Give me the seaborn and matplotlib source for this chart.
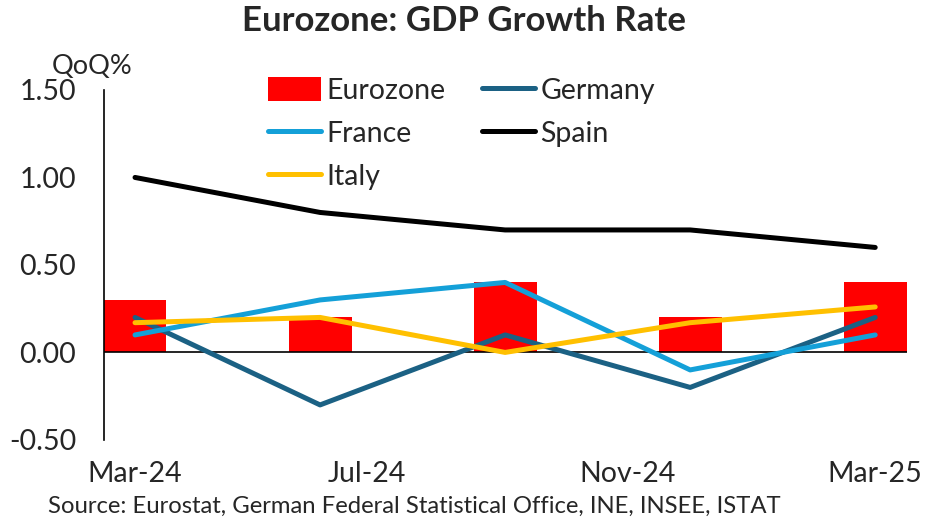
import matplotlib
matplotlib.use("Agg")
import matplotlib.pyplot as plt
import seaborn as sns
import pandas as pd
import numpy as np
from matplotlib.patches import Patch
from matplotlib.lines import Line2D

quarters = ["Mar-24", "Jun-24", "Sep-24", "Dec-24", "Mar-25"]
eurozone = [0.3, 0.2, 0.4, 0.2, 0.4]
germany = [0.2, -0.3, 0.1, -0.2, 0.2]
france = [0.1, 0.3, 0.4, -0.1, 0.1]
spain = [1.0, 0.8, 0.7, 0.7, 0.6]
italy = [0.17, 0.2, 0.0, 0.17, 0.26]
tick_labels = ["Mar-24", "Jul-24", "Nov-24", "Mar-25"]
tick_pos = [0, 1.25, 2.66, 4]

colors = {"Eurozone": "#FF0000", "Germany": "#1B6184", "France": "#14A0D8",
          "Spain": "#000000", "Italy": "#FFC000"}

sns.set_theme(style="white")
plt.rcParams['font.family'] = ['Lato', 'DejaVu Sans']

fig = plt.figure(figsize=(9.28, 5.2), dpi=100)
ax = fig.add_axes([0.112, 0.154, 0.865, 0.673])

bar_df = pd.DataFrame({"q": quarters, "v": eurozone})
sns.barplot(data=bar_df, x="q", y="v", color=colors["Eurozone"], saturation=1,
            width=0.34, ax=ax, linewidth=0)

line_df = pd.DataFrame({
    "x": list(range(5)) * 4,
    "v": germany + france + spain + italy,
    "s": ["Germany"] * 5 + ["France"] * 5 + ["Spain"] * 5 + ["Italy"] * 5,
})
LW = 3.6
for name in ["Germany", "France", "Spain", "Italy"]:
    sub = line_df[line_df.s == name]
    sns.lineplot(data=sub, x="x", y="v", color=colors[name], linewidth=LW,
                 ax=ax, solid_capstyle="round", legend=False)

ax.axhline(0, color="black", linewidth=1.2, zorder=1.5)
ax.set_xlim(-0.168, 4.17)
ax.set_ylim(-0.5, 1.5)
yt = [-0.5, 0, 0.5, 1.0, 1.5]
ax.set_yticks(yt)
ax.set_yticklabels([f"{v:.2f}" for v in yt], fontsize=20.5)
ax.set_xticks(tick_pos)
ax.set_xticklabels(tick_labels, fontsize=20.5)
ax.tick_params(axis="y", length=0, pad=20)
ax.tick_params(axis="x", length=0, pad=15)
ax.set_xlabel("")
ax.set_ylabel("")
for s in ["top", "right", "bottom"]:
    ax.spines[s].set_visible(False)
ax.spines["left"].set_color("black")
ax.spines["left"].set_linewidth(1.2)

handles = [
    Patch(facecolor=colors["Eurozone"], edgecolor="none", label="Eurozone"),
    Line2D([0], [0], color=colors["France"], lw=LW, solid_capstyle="round", label="France"),
    Line2D([0], [0], color=colors["Italy"], lw=LW, solid_capstyle="round", label="Italy"),
    Line2D([0], [0], color=colors["Germany"], lw=LW, solid_capstyle="round", label="Germany"),
    Line2D([0], [0], color=colors["Spain"], lw=LW, solid_capstyle="round", label="Spain"),
]
fig.legend(handles=handles, ncol=2, frameon=False, fontsize=20.5,
           loc="upper left", bbox_to_anchor=(0.289, 0.852),
           handlelength=1.85, handleheight=0.9, handletextpad=0.2,
           columnspacing=1.28, labelspacing=0.58, borderaxespad=0, borderpad=0)

fig.text(0.5, 0.96, "Eurozone: GDP Growth Rate", ha="center", va="center",
         fontsize=25, fontweight="bold")
fig.text(0.056, 0.872, "QoQ%", ha="left", va="center", fontsize=19.5)
fig.text(0.052, 0.027, "Source: Eurostat, German Federal Statistical Office, INE, INSEE, ISTAT",
         ha="left", va="center", fontsize=17.2)

fig.savefig("out.png", dpi=100)
